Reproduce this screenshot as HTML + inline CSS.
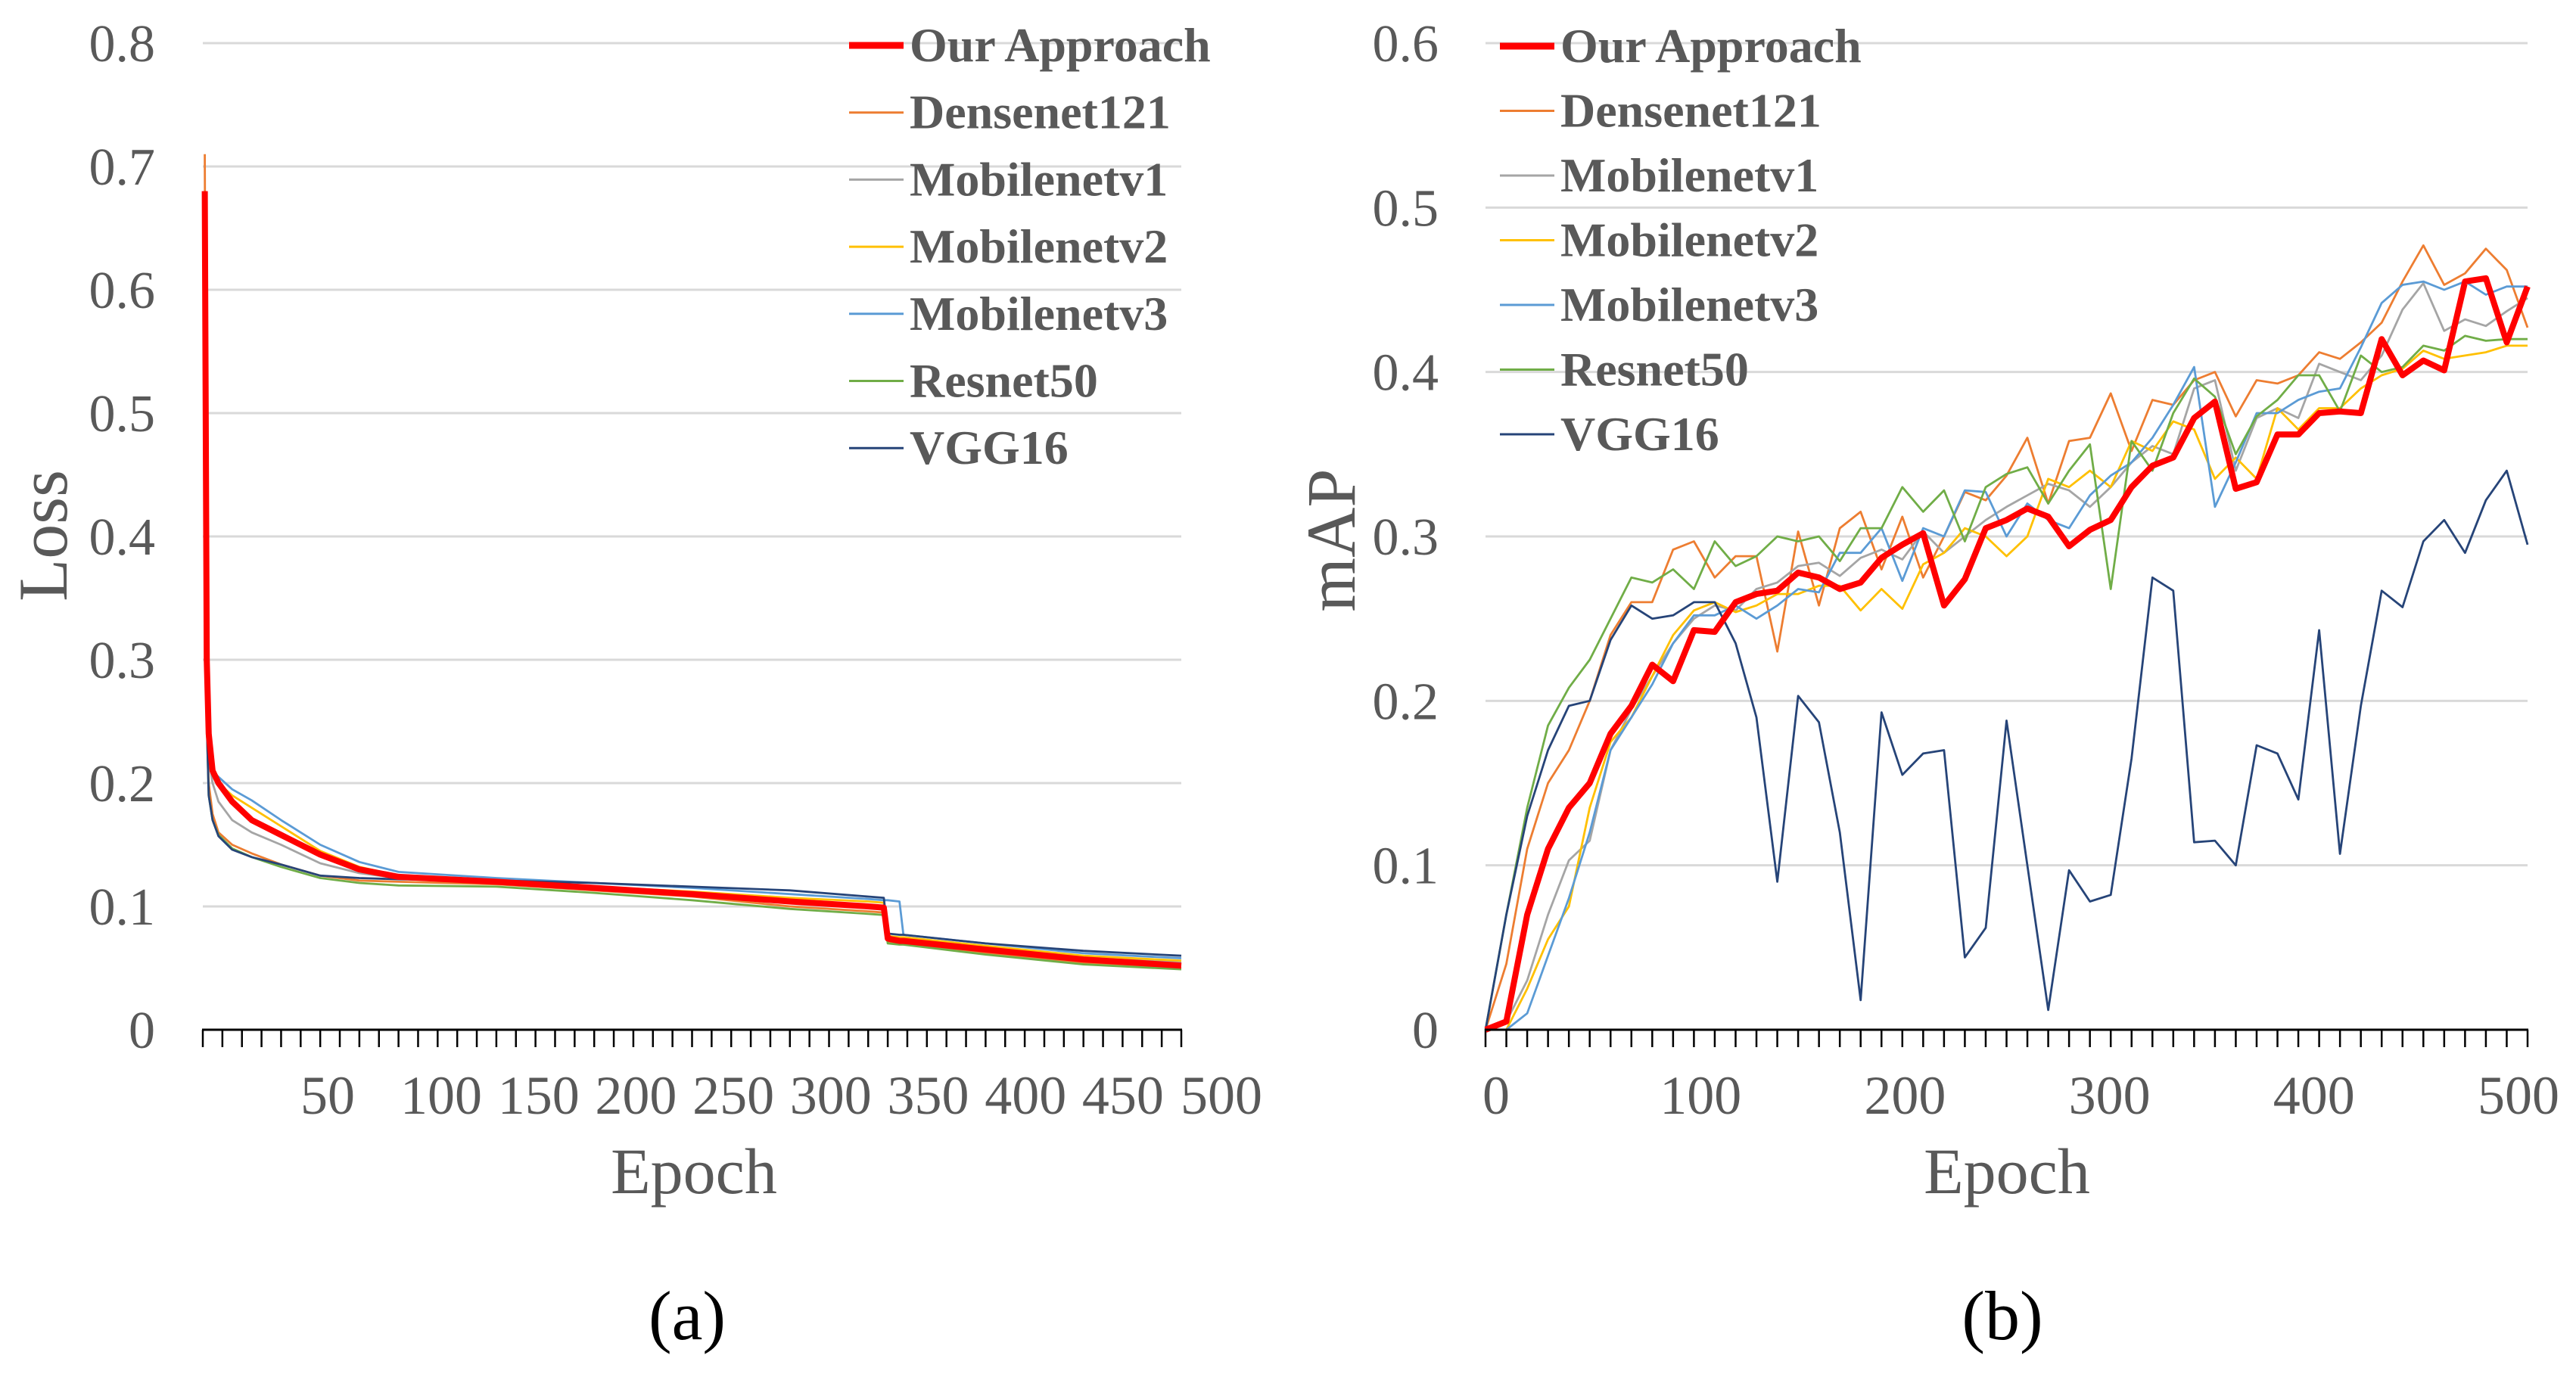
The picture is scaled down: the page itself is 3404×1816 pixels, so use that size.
<!DOCTYPE html>
<html><head><meta charset="utf-8"><style>
html,body{margin:0;padding:0;background:#fff;}
svg{display:block;}
text{font-family:"Liberation Serif",serif;fill:#595959;}
</style></head><body>
<svg id="fig" width="3404" height="1816" viewBox="0 0 3404 1816" xmlns="http://www.w3.org/2000/svg">
<g id="chartA"></g>
<g id="chartB"></g>
<text x="917" y="1577" font-size="86" text-anchor="middle">Epoch</text>
<text x="0" y="0" font-size="92" text-anchor="middle" transform="translate(88,708) rotate(-90)">Loss</text>
<text x="908" y="1770" font-size="92" text-anchor="middle" style="fill:#000">(a)</text>
<text x="2652" y="1577" font-size="86" text-anchor="middle">Epoch</text>
<text x="0" y="0" font-size="92" text-anchor="middle" transform="translate(1790,714) rotate(-90)">mAP</text>
<text x="2646" y="1770" font-size="92" text-anchor="middle" style="fill:#000">(b)</text>
</svg>
<script>
const seriesNames = ["Our Approach","Densenet121","Mobilenetv1","Mobilenetv2","Mobilenetv3","Resnet50","VGG16"];
const seriesColors = ["#FF0000","#ED7D31","#A5A5A5","#FFC000","#5B9BD5","#70AD47","#264478"];
// Loss chart data
const lossEpochs = [1,2,3,5,8,15,25,40,60,80,100,150,200,250,300,340,348,350,356,358,400,450,500];
const lossOurs = [0.68,0.30,0.24,0.21,0.2,0.185,0.17,0.158,0.142,0.13,0.124,0.12,0.115,0.11,0.104,0.1,0.099,0.074,0.072,0.072,0.065,0.057,0.052];
const lossDense = [0.71,0.26,0.2,0.175,0.16,0.15,0.143,0.134,0.125,0.121,0.12,0.118,0.113,0.108,0.1,0.096,0.095,0.071,0.07,0.07,0.062,0.054,0.05];
const lossMv1 = [0.66,0.28,0.22,0.2,0.185,0.17,0.16,0.15,0.135,0.127,0.123,0.12,0.115,0.11,0.105,0.101,0.1,0.074,0.073,0.073,0.066,0.058,0.055];
const lossMv2 = [0.66,0.3,0.23,0.21,0.2,0.19,0.18,0.165,0.145,0.132,0.125,0.12,0.116,0.112,0.107,0.104,0.103,0.076,0.075,0.075,0.068,0.06,0.056];
const lossMv3 = [0.66,0.3,0.23,0.21,0.205,0.195,0.186,0.17,0.15,0.136,0.128,0.123,0.119,0.115,0.11,0.106,0.105,0.105,0.104,0.077,0.07,0.062,0.058];
const lossRes = [0.66,0.25,0.19,0.17,0.158,0.147,0.14,0.132,0.123,0.119,0.117,0.116,0.111,0.105,0.098,0.094,0.093,0.07,0.069,0.069,0.061,0.053,0.049];
const lossVgg = [0.66,0.25,0.19,0.17,0.157,0.146,0.14,0.134,0.125,0.123,0.122,0.121,0.119,0.116,0.113,0.108,0.107,0.078,0.077,0.077,0.07,0.064,0.06];
const lossYTicks = ["0","0.1","0.2","0.3","0.4","0.5","0.6","0.7","0.8"];
const lossXLabels = ["50","100","150","200","250","300","350","400","450","500"];
// mAP chart data
const mapEpochs = [0,10,20,30,40,50,60,70,80,90,100,110,120,130,140,150,160,170,180,190,200,210,220,230,240,250,260,270,280,290,300,310,320,330,340,350,360,370,380,390,400,410,420,430,440,450,460,470,480,490,500];
const mapOurs = [0,0.005,0.07,0.11,0.135,0.15,0.18,0.197,0.222,0.212,0.243,0.242,0.26,0.265,0.267,0.278,0.275,0.268,0.272,0.287,0.295,0.302,0.258,0.274,0.305,0.31,0.317,0.312,0.294,0.304,0.31,0.33,0.343,0.348,0.372,0.382,0.329,0.333,0.362,0.362,0.375,0.376,0.375,0.42,0.398,0.407,0.401,0.455,0.457,0.418,0.452];
const mapDense = [0,0.04,0.11,0.15,0.17,0.2,0.24,0.26,0.26,0.292,0.297,0.275,0.288,0.288,0.23,0.303,0.258,0.305,0.315,0.28,0.312,0.275,0.3,0.327,0.322,0.337,0.36,0.32,0.358,0.36,0.387,0.352,0.383,0.38,0.395,0.4,0.373,0.395,0.393,0.398,0.412,0.408,0.418,0.43,0.455,0.477,0.453,0.46,0.475,0.462,0.427];
const mapMv1 = [0,0.005,0.03,0.07,0.103,0.115,0.17,0.195,0.215,0.235,0.25,0.258,0.255,0.268,0.272,0.282,0.284,0.276,0.287,0.292,0.286,0.303,0.29,0.3,0.31,0.318,0.325,0.332,0.328,0.318,0.33,0.345,0.355,0.35,0.39,0.395,0.34,0.372,0.378,0.372,0.405,0.4,0.395,0.41,0.438,0.454,0.425,0.432,0.428,0.437,0.445];
const mapMv2 = [0,0,0.025,0.055,0.075,0.135,0.175,0.19,0.215,0.24,0.255,0.26,0.254,0.258,0.265,0.265,0.27,0.27,0.255,0.268,0.256,0.283,0.29,0.305,0.3,0.288,0.3,0.335,0.33,0.34,0.33,0.358,0.352,0.37,0.365,0.335,0.348,0.335,0.378,0.365,0.378,0.378,0.39,0.398,0.402,0.413,0.408,0.41,0.412,0.416,0.416];
const mapMv3 = [0,0,0.01,0.045,0.08,0.12,0.17,0.19,0.21,0.235,0.252,0.252,0.258,0.25,0.258,0.268,0.266,0.29,0.29,0.305,0.273,0.305,0.3,0.328,0.327,0.3,0.32,0.31,0.305,0.325,0.337,0.345,0.36,0.38,0.403,0.318,0.345,0.375,0.375,0.383,0.388,0.39,0.415,0.442,0.453,0.455,0.45,0.455,0.447,0.452,0.452];
const mapRes = [0,0.07,0.135,0.185,0.208,0.225,0.25,0.275,0.272,0.28,0.268,0.297,0.282,0.288,0.3,0.297,0.3,0.285,0.305,0.305,0.33,0.315,0.328,0.297,0.33,0.338,0.342,0.32,0.34,0.356,0.268,0.358,0.34,0.375,0.396,0.385,0.35,0.373,0.383,0.398,0.398,0.376,0.41,0.4,0.403,0.416,0.413,0.422,0.419,0.42,0.42];
const mapVgg = [0,0.07,0.13,0.17,0.197,0.2,0.237,0.258,0.25,0.252,0.26,0.26,0.235,0.19,0.09,0.203,0.187,0.12,0.018,0.193,0.155,0.168,0.17,0.044,0.062,0.188,0.1,0.012,0.097,0.078,0.082,0.165,0.275,0.267,0.114,0.115,0.1,0.173,0.168,0.14,0.243,0.107,0.197,0.267,0.257,0.297,0.31,0.29,0.322,0.34,0.295];
const mapYTicks = ["0","0.1","0.2","0.3","0.4","0.5","0.6"];
const mapXLabels = ["0","100","200","300","400","500"];

const NS="http://www.w3.org/2000/svg";
function mk(parent,tag,attrs){const e=document.createElementNS(NS,tag);for(const k in attrs)e.setAttribute(k,attrs[k]);parent.appendChild(e);return e;}

function drawChart(g,cfg){
  const {x0,x1,y0,yTop,vmax,epMax,yTicks,series,epochs,legX,legY,legStep,ylabRight,xLabelPos,xLabels,nTicks}=cfg;
  const xs=e=>x0+(e/epMax)*(x1-x0);
  const ys=v=>y0-(v/vmax)*(y0-yTop);
  yTicks.forEach((t,i)=>{
    const v=parseFloat(t);
    if(v>0){const l=mk(g,'line',{x1:x0,x2:x1,y1:ys(v),y2:ys(v),stroke:'#d9d9d9','stroke-width':3});
      
      }
    const tx=mk(g,'text',{x:ylabRight,y:ys(v)+24,'font-size':70,'text-anchor':'end'});
    tx.textContent=t;
    
    
  });
  for(let i=0;i<=nTicks;i++){
    const xx=x0+i*(x1-x0)/nTicks;
    const tk=mk(g,'line',{x1:xx,x2:xx,y1:y0,y2:y0+23,stroke:'#000','stroke-width':2.5});
    
    
  }
  xLabels.forEach((t,i)=>{
    const tx=mk(g,'text',{x:xLabelPos(i),y:1472,'font-size':72,'text-anchor':'middle'});
    tx.textContent=t;
    
    
  });
  const order=[1,2,3,4,5,6,0];
  order.forEach(si=>{
    const vals=series[si];
    const d=vals.map((v,i)=>(i?'L':'M')+xs(epochs[i]).toFixed(1)+','+ys(v).toFixed(1)).join(' ');
    const p=mk(g,'path',{d:d,fill:'none',stroke:seriesColors[si],'stroke-width':si===0?8:2.8,'stroke-linejoin':'round'});
    
    
  });
  const ax=mk(g,'line',{x1:x0-1,x2:x1+1,y1:y0,y2:y0,stroke:'#000','stroke-width':3});
  
  
  seriesNames.forEach((n,i)=>{
    const ly=legY+i*legStep;
    const lg=mk(g,'g',{});
    
    
    mk(lg,'line',{x1:legX,x2:legX+72,y1:ly,y2:ly,stroke:seriesColors[i],'stroke-width':i===0?9:3});
    const tx=mk(lg,'text',{x:legX+80,y:ly+21,'font-size':64,'font-weight':'bold'});
    tx.textContent=n;
  });
}

drawChart(document.getElementById('chartA'),{
  x0:268,x1:1561,y0:1361,yTop:57,vmax:0.8,epMax:500,yTicks:lossYTicks,
  series:[lossOurs,lossDense,lossMv1,lossMv2,lossMv3,lossRes,lossVgg],epochs:lossEpochs,
  legX:1122,legY:60,legStep:88.7,ylabRight:205,nTicks:50,
  xLabels:lossXLabels,xLabelPos:i=>i===0?433:(i===9?1614:583+(i-1)*128.7)
});
drawChart(document.getElementById('chartB'),{
  x0:1963,x1:3340,y0:1361,yTop:57,vmax:0.6,epMax:500,yTicks:mapYTicks,
  series:[mapOurs,mapDense,mapMv1,mapMv2,mapMv3,mapRes,mapVgg],epochs:mapEpochs,
  legX:1982,legY:61,legStep:85.5,ylabRight:1901,nTicks:50,
  xLabels:mapXLabels,xLabelPos:i=>1977+i*270.2
});
</script>
</body></html>
